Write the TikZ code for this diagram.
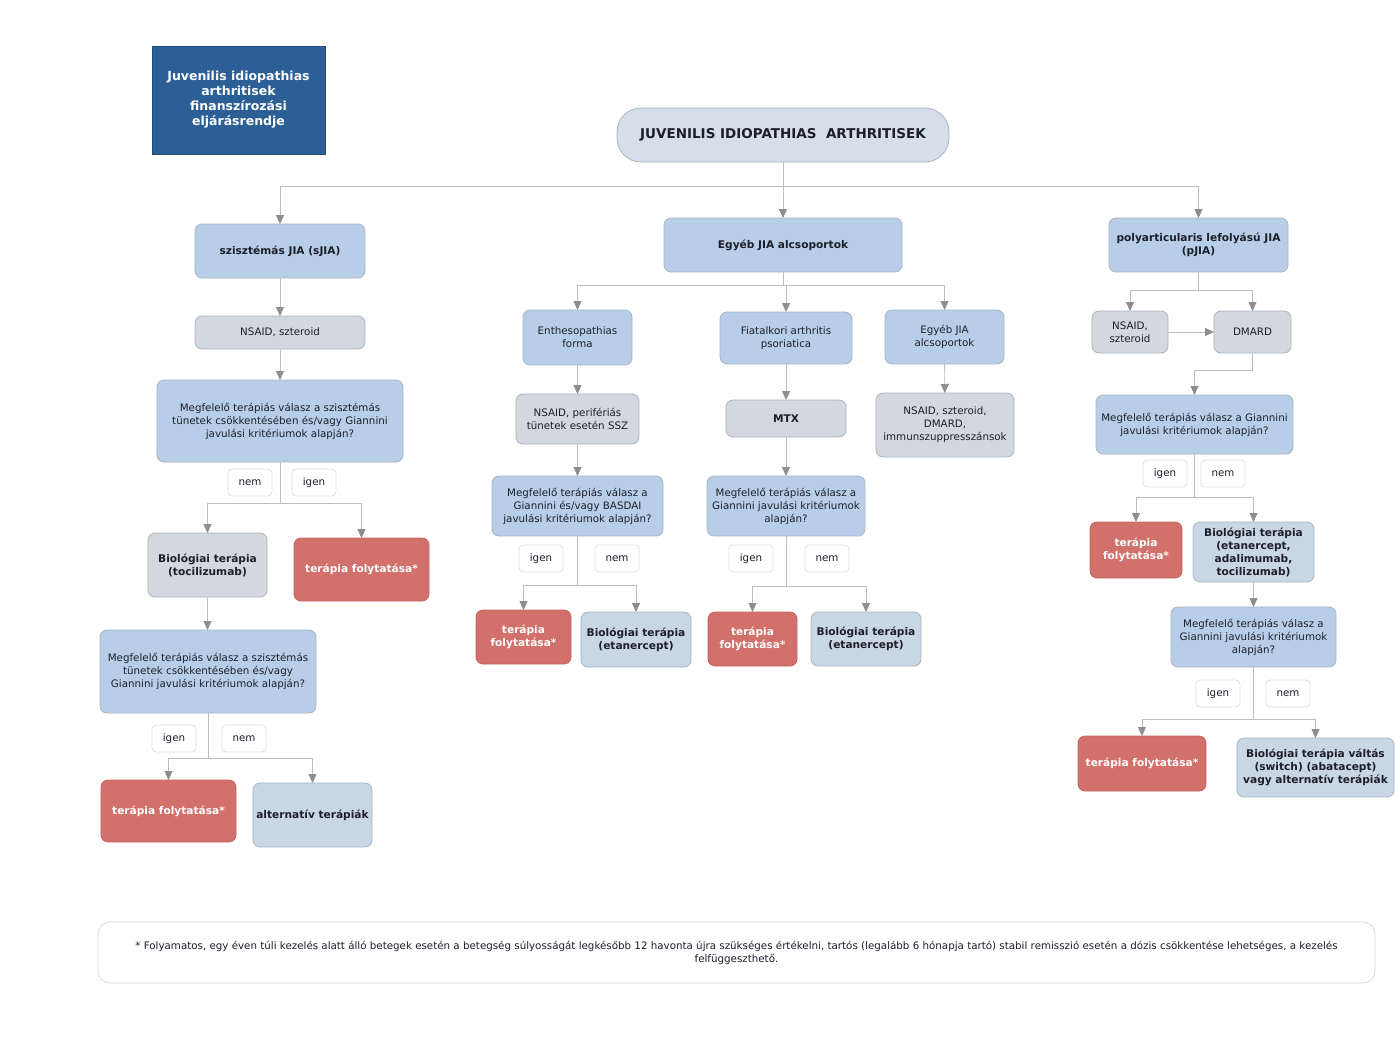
\documentclass[tikz,border=0pt]{standalone}
\usepackage{fontspec}
\setmainfont{DejaVu Sans}
\usetikzlibrary{arrows.meta}
\definecolor{bluefill}{HTML}{B8CEE8}
\definecolor{grayfill}{HTML}{D3D8DE}
\definecolor{gbfill}{HTML}{C9D6E3}
\definecolor{redfill}{HTML}{D2706B}
\definecolor{topfill}{HTML}{D5DFEA}
\definecolor{titlefill}{HTML}{2D5F97}
\definecolor{bordercol}{HTML}{A9B5C3}
\definecolor{redborder}{HTML}{C4655F}
\definecolor{linegray}{HTML}{BDBDBD}
\definecolor{tipgray}{HTML}{8E8E8E}
\definecolor{txt}{HTML}{1C1F2A}
\newcommand\fsz{\fontsize{10.3}{13}\selectfont}
\newcommand\fszb{\fontsize{10.6}{13}\selectfont\bfseries}
\newcommand\bx[7]{\node[#2, minimum width={#5-#3}, minimum height={#6-#4}] (#1) at ({(#3+#5)/2},{(#4+#6)/2}) {#7};}
\begin{document}
\begin{tikzpicture}[x=1pt,y=-1pt,
  base/.style={rounded corners=7pt, draw=bordercol, line width=0.8pt, align=center, inner sep=2pt, outer sep=0pt, font=\fsz, text=txt},
  bluebox/.style={base, fill=bluefill},
  bluebold/.style={base, fill=bluefill, font=\fszb},
  graybox/.style={base, fill=grayfill},
  graybold/.style={base, fill=grayfill, font=\fszb},
  gbbold/.style={base, fill=gbfill, font=\fszb},
  redbox/.style={base, fill=redfill, draw=redborder, text=white, font=\fszb},
  lab/.style={base, rounded corners=4pt, fill=white, draw=black!12},
  line/.style={draw=linegray, line width=0.9pt},
  conn/.style={line, -{Triangle[width=8pt,length=9pt,color=tipgray]}}
]
\useasboundingbox (0,0) rectangle (1395,1063);
\fill[white] (0,0) rectangle (1395,1063);

% title
\node[draw=titlefill!80!black, line width=0.6pt, fill=titlefill, text=white, align=center, minimum width=173, minimum height=108, font=\fontsize{12.5}{15}\selectfont\bfseries, inner sep=0pt] (title) at (238.5,100) {Juvenilis idiopathias\\arthritisek\\finanszírozási\\eljárásrendje};

% top
\node[base, fill=topfill, rounded corners=24pt, minimum width=332, minimum height=54, font=\fontsize{13.5}{16}\selectfont\bfseries] (top) at (783,135) {JUVENILIS IDIOPATHIAS~~ARTHRITISEK};

% left column
\bx{sjia}{bluebold}{195}{224}{365}{278}{szisztémás JIA (sJIA)}
\bx{nsaid1}{graybox}{195}{316}{365}{349}{NSAID, szteroid}
\bx{meg1}{bluebox}{157}{380}{403}{462}{Megfelelő terápiás válasz a szisztémás\\tünetek csökkentésében és/vagy Giannini\\javulási kritériumok alapján?}
\bx{bio1}{graybold}{148}{533}{267}{597}{Biológiai terápia\\(tocilizumab)}
\bx{red1}{redbox}{294}{538}{429}{601}{terápia folytatása*}
\bx{meg2}{bluebox}{100}{630}{316}{713}{Megfelelő terápiás válasz a szisztémás\\tünetek csökkentésében és/vagy\\Giannini javulási kritériumok alapján?}
\bx{red2}{redbox}{101}{780}{236}{842}{terápia folytatása*}
\bx{alt}{gbbold}{253}{783}{372}{847}{alternatív terápiák}
\bx{l1}{lab}{228}{469}{272}{496}{nem}
\bx{l2}{lab}{292}{469}{336}{496}{igen}
\bx{l3}{lab}{152}{725}{196}{752}{igen}
\bx{l4}{lab}{222}{725}{266}{752}{nem}

% middle
\bx{egyeb}{bluebold}{664}{218}{902}{272}{Egyéb JIA alcsoportok}
\bx{enth}{bluebox}{523}{310}{632}{365}{Enthesopathias\\forma}
\bx{nsaid2}{graybox}{516}{394}{639}{444}{NSAID, perifériás\\tünetek esetén SSZ}
\bx{meg3}{bluebox}{492}{476}{663}{536}{Megfelelő terápiás válasz a\\Giannini és/vagy BASDAI\\javulási kritériumok alapján?}
\bx{red3}{redbox}{476}{610}{571}{664}{terápia\\folytatása*}
\bx{bio3}{gbbold}{581}{612}{691}{667}{Biológiai terápia\\(etanercept)}
\bx{l5}{lab}{519}{545}{563}{572}{igen}
\bx{l6}{lab}{595}{545}{639}{572}{nem}

\bx{fiat}{bluebox}{720}{312}{852}{364}{Fiatalkori arthritis\\psoriatica}
\bx{mtx}{graybold}{726}{400}{846}{437}{MTX}
\bx{meg4}{bluebox}{707}{476}{865}{536}{Megfelelő terápiás válasz a\\Giannini javulási kritériumok\\alapján?}
\bx{red4}{redbox}{708}{612}{797}{666}{terápia\\folytatása*}
\bx{bio4}{gbbold}{811}{612}{921}{666}{Biológiai terápia\\(etanercept)}
\bx{l7}{lab}{729}{545}{773}{572}{igen}
\bx{l8}{lab}{805}{545}{849}{572}{nem}

\bx{egy2}{bluebox}{885}{310}{1004}{364}{Egyéb JIA\\alcsoportok}
\bx{nsaid3}{graybox}{876}{393}{1014}{457}{NSAID, szteroid,\\DMARD,\\immunszuppresszánsok}

% right
\bx{pjia}{bluebold}{1109}{218}{1288}{272}{polyarticularis lefolyású JIA\\(pJIA)}
\bx{nsaid4}{graybox}{1092}{311}{1168}{353}{NSAID,\\szteroid}
\bx{dmard}{graybox}{1214}{311}{1291}{353}{DMARD}
\bx{meg5}{bluebox}{1096}{395}{1293}{454}{Megfelelő terápiás válasz a Giannini\\javulási kritériumok alapján?}
\bx{red5}{redbox}{1090}{522}{1182}{578}{terápia\\folytatása*}
\bx{bio5}{gbbold}{1193}{522}{1314}{582}{Biológiai terápia\\(etanercept,\\adalimumab,\\tocilizumab)}
\bx{meg6}{bluebox}{1171}{607}{1336}{667}{Megfelelő terápiás válasz a\\Giannini javulási kritériumok\\alapján?}
\bx{red6}{redbox}{1078}{736}{1206}{791}{terápia folytatása*}
\bx{bio6}{gbbold}{1237}{738}{1394}{797}{Biológiai terápia váltás\\(switch) (abatacept)\\vagy alternatív terápiák}
\bx{l9}{lab}{1143}{460}{1187}{487}{igen}
\bx{l10}{lab}{1201}{460}{1245}{487}{nem}
\bx{l11}{lab}{1196}{680}{1240}{707}{igen}
\bx{l12}{lab}{1266}{680}{1310}{707}{nem}

% footnote
\node[base, fill=white, draw=black!15, rounded corners=12pt, minimum width=1277, minimum height=61, font=\fontsize{10.3}{13}\selectfont] (foot) at (736.5,952.5) {* Folyamatos, egy éven túli kezelés alatt álló betegek esetén a betegség súlyosságát legkésőbb 12 havonta újra szükséges értékelni, tartós (legalább 6 hónapja tartó) stabil remisszió esetén a dózis csökkentése lehetséges, a kezelés\\felfüggeszthető.};

% connectors
\coordinate (j1) at (783,186);
\draw[line] (top.south) -- (j1);
\draw[conn] (j1) -| (sjia.north);
\draw[conn] (j1) -- (egyeb.north);
\draw[conn] (j1) -| (pjia.north);

\draw[conn] (sjia) -- (nsaid1);
\draw[conn] (nsaid1) -- (meg1);
\coordinate (j2) at (280,503);
\draw[line] (meg1.south) -- (j2);
\draw[conn] (j2) -| (bio1.north);
\draw[conn] (j2) -| (red1.north);
\draw[conn] (bio1.south) -- (bio1.south |- meg2.north);
\coordinate (j3) at (208,758);
\draw[line] (meg2.south) -- (j3);
\draw[conn] (j3) -| (red2.north);
\draw[conn] (j3) -| (alt.north);

\coordinate (j4) at (783,285);
\draw[line] (egyeb.south) -- (j4);
\draw[conn] (j4) -| (enth.north);
\draw[conn] (j4) -| (fiat.north);
\draw[conn] (j4) -| (egy2.north);
\draw[conn] (enth) -- (nsaid2);
\draw[conn] (nsaid2) -- (meg3);
\coordinate (j5) at (577.5,585);
\draw[line] (meg3.south) -- (j5);
\draw[conn] (j5) -| (red3.north);
\draw[conn] (j5) -| (bio3.north);
\draw[conn] (fiat) -- (mtx);
\draw[conn] (mtx) -- (meg4);
\coordinate (j6) at (786,586);
\draw[line] (meg4.south) -- (j6);
\draw[conn] (j6) -| (red4.north);
\draw[conn] (j6) -| (bio4.north);
\draw[conn] (egy2) -- (nsaid3);

\coordinate (j7) at (1198.5,290);
\draw[line] (pjia.south) -- (j7);
\draw[conn] (j7) -| (nsaid4.north);
\draw[conn] (j7) -| (dmard.north);
\draw[conn] (nsaid4.east) -- (dmard.west);
\coordinate (j7b) at (1252.5,370);
\draw[conn] (dmard.south) -- (j7b) -| (meg5.north);
\coordinate (j8) at (1194.5,497);
\draw[line] (meg5.south) -- (j8);
\draw[conn] (j8) -| (red5.north);
\draw[conn] (j8) -| (bio5.north);
\draw[conn] (bio5) -- (meg6);
\coordinate (j9) at (1253.5,719);
\draw[line] (meg6.south) -- (j9);
\draw[conn] (j9) -| (red6.north);
\draw[conn] (j9) -| (bio6.north);
\end{tikzpicture}
\end{document}
